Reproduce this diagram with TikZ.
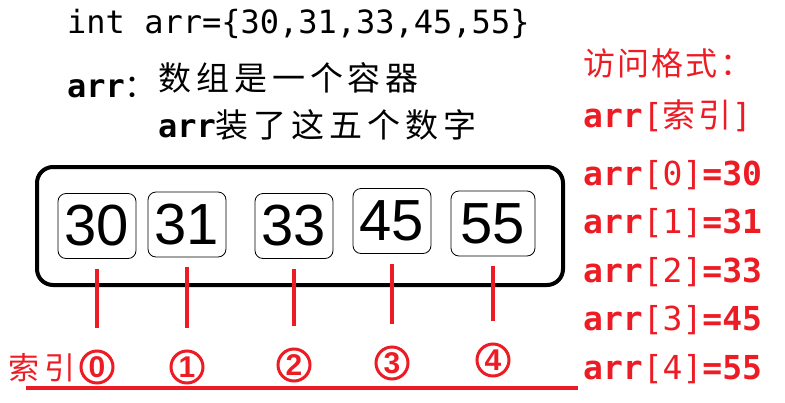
\documentclass[tikz,border=0pt]{standalone}
\usepackage{fontspec}
\setmainfont{Liberation Sans}
\newfontfamily\monofont{DejaVu Sans Mono}
\newfontfamily\cjk{Noto Sans CJK SC}
\definecolor{idxred}{RGB}{237,28,36}
\newcommand\rbr[1]{{\mdseries#1}}
\begin{document}
\begin{tikzpicture}[x=1pt,y=-1pt,
  cell/.style={draw,rounded corners=8pt,line width=0.8pt,minimum width=78pt,minimum height=65pt,inner sep=0pt,font=\fontsize{58}{62}\selectfont},
  idx/.style={circle,draw=idxred,line width=3pt,minimum size=32pt,inner sep=0pt,text=idxred,font=\bfseries\fontsize{30}{32}\selectfont},
  redline/.style={idxred,line width=4pt},
  code/.style={anchor=base west,inner sep=0pt,font=\monofont\fontsize{32}{38}\selectfont},
  redtxt/.style={anchor=base west,inner sep=0pt,text=idxred,font=\monofont\bfseries\fontsize{33}{40}\selectfont}]
\useasboundingbox (0,0) rectangle (785,402);
\node[code] (decl) at (67,33) {int arr=\{30,31,33,45,55\}};
\node[code,font=\monofont\bfseries\fontsize{32}{38}\selectfont] (arrname) at (67,97) {arr{\cjk\mdseries ：}};
\node[code,font={\cjk\fontsize{33}{38}\selectfont\addfontfeature{LetterSpace=15}}] (desc1) at (158,90) {数组是一个容器};
\node[code,font={\cjk\fontsize{33}{38}\selectfont\addfontfeature{LetterSpace=15}}] (desc2) at (158,137) {{\monofont\bfseries\fontsize{32}{38}\selectfont arr}装了这五个数字};
\node[draw,line width=4pt,rounded corners=16pt,minimum width=526pt,minimum height=118pt] (box) at (300,226) {};
\node[cell] (c0) at (97,226) {30};
\node[cell] (c1) at (187,224.5) {31};
\node[cell] (c2) at (294,226) {33};
\node[cell] (c3) at (392,221) {45};
\node[cell,minimum width=84pt] (c4) at (493,223.5) {55};
\node[idx] (i0) at (97,367) {0};
\node[idx] (i1) at (187,367) {1};
\node[idx] (i2) at (294,365) {2};
\node[idx] (i3) at (392,363) {3};
\node[idx] (i4) at (493,360) {4};
\draw[redline] ([yshift=-10pt]c0.south) -- ([yshift=22pt]i0.north);
\draw[redline] ([yshift=-10pt]c1.south) -- ([yshift=22pt]i1.north);
\draw[redline] ([yshift=-10pt]c2.south) -- ([yshift=22pt]i2.north);
\draw[redline] ([yshift=-10pt]c3.south) -- ([yshift=22pt]i3.north);
\draw[redline] ([yshift=-10pt]c4.south) -- ([yshift=22pt]i4.north);
\node[redtxt,font={\cjk\fontsize{31}{36}\selectfont\addfontfeature{LetterSpace=18}}] (idxlabel) at (8,379) {索引};
\draw[redline] (26,388) -- (578,388);
\node[redtxt,font={\cjk\fontsize{32}{36}\selectfont\addfontfeature{LetterSpace=7}}] (fmt) at (583,75) {访问格式：};
\node[redtxt] (fmtidx) at (583,127) {arr\rbr{[}{\cjk\mdseries\addfontfeature{LetterSpace=10}索引}\rbr{]}};
\node[redtxt] (a0) at (583,185) {arr\rbr{[0]}=30};
\node[redtxt] (a1) at (583,233) {arr\rbr{[1]}=31};
\node[redtxt] (a2) at (583,282) {arr\rbr{[2]}=33};
\node[redtxt] (a3) at (583,330) {arr\rbr{[3]}=45};
\node[redtxt] (a4) at (583,379) {arr\rbr{[4]}=55};
\end{tikzpicture}
\end{document}
